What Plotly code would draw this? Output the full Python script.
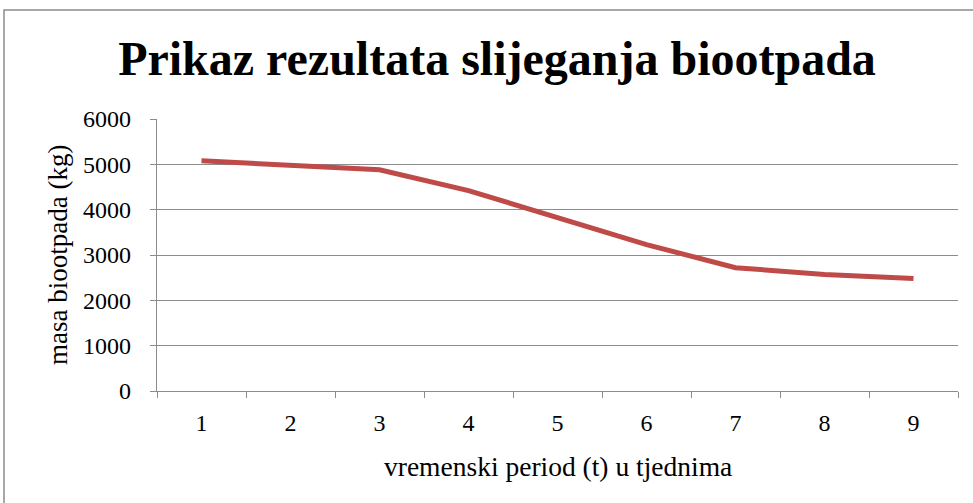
import plotly.graph_objects as go

weeks = ["1", "2", "3", "4", "5", "6", "7", "8", "9"]
mass_kg = [5080, 4980, 4880, 4420, 3820, 3230, 2720, 2570, 2480]
y_ticks = [0, 1000, 2000, 3000, 4000, 5000, 6000]

title_text = "Prikaz rezultata slijeganja biootpada"
x_title = "vremenski period (t) u tjednima"
y_title = "masa biootpada (kg)"

FONT = "Liberation Serif"
GRID = "#8c8c8c"

W, H = 973, 503
L, R, T, B = 157, 15, 119, 112
pw, ph = W - L - R, H - T - B

def px_x(px):
    return (px - L) / pw

def px_y(py):
    return (H - B - py) / ph

fig = go.Figure()
fig.add_trace(go.Scatter(
    x=weeks, y=mass_kg, mode="lines",
    line=dict(color="#BE4B48", width=5),
    hoverinfo="x+y", showlegend=False,
))

fig.update_layout(
    width=W, height=H,
    margin=dict(l=L, r=R, t=T, b=B),
    paper_bgcolor="white", plot_bgcolor="white",
    font=dict(family=FONT, color="black", size=24),
    title=dict(text="<b>" + title_text + "</b>", x=497 / W, xref="container",
               xanchor="center", y=(H - 58) / H, yref="container", yanchor="middle",
               font=dict(family=FONT, size=48, color="black")),
    xaxis=dict(
        type="category", tickson="boundaries", ticks="outside", ticklen=6,
        tickcolor=GRID, tickwidth=1.3, showgrid=False, showline=True,
        linecolor=GRID, linewidth=1.3, tickfont=dict(size=24, family=FONT, color="black"),
        ticklabelstandoff=10, range=[-0.5, 8.5], fixedrange=True,
    ),
    yaxis=dict(
        range=[0, 6000], tickvals=y_ticks, ticks="outside", ticklen=6,
        tickcolor=GRID, tickwidth=1.3, showgrid=True, gridcolor=GRID,
        gridwidth=1.3, showline=True, linecolor=GRID, linewidth=1.3,
        zeroline=False, tickfont=dict(size=24, family=FONT, color="black"),
        ticklabelstandoff=14, fixedrange=True,
    ),
    annotations=[
        dict(text=x_title, xref="paper", yref="paper", x=0.5, y=px_y(466),
             xanchor="center", yanchor="middle", showarrow=False,
             font=dict(size=27.5, family=FONT, color="black")),
        dict(text=y_title, xref="paper", yref="paper", x=px_x(58), y=px_y(255),
             xanchor="center", yanchor="middle", textangle=-90, showarrow=False,
             font=dict(size=27, family=FONT, color="black")),
    ],
    shapes=[
        dict(type="rect", xref="paper", yref="paper",
             x0=px_x(4), x1=px_x(1200), y0=px_y(900), y1=px_y(10),
             line=dict(color="#8c8c8c", width=1.5), fillcolor="rgba(0,0,0,0)",
             layer="below"),
    ],
)

fig.write_html("out.html", config={"displayModeBar": False},
               post_script="document.body.style.margin='0';")
